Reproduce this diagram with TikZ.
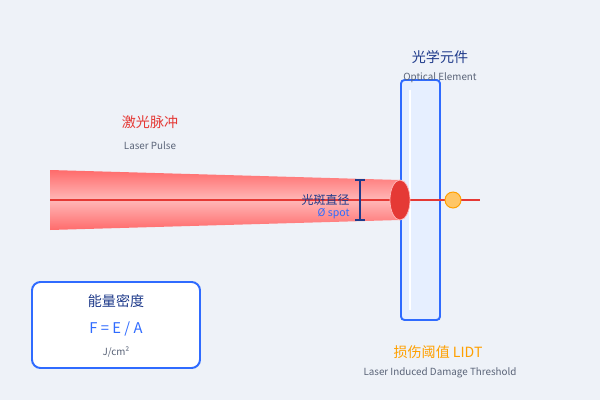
\documentclass[tikz,border=0pt]{standalone}
\usepackage{fontspec}
\setmainfont{Noto Sans CJK SC}
\usetikzlibrary{positioning,shapes.geometric}
\definecolor{bg}{HTML}{EEF2F8}
\definecolor{beamred}{HTML}{FF6B6B}
\definecolor{beamlight}{HTML}{FFB8B8}
\definecolor{spotred}{HTML}{E53935}
\definecolor{optblue}{HTML}{2F6BFF}
\definecolor{optfill}{HTML}{E6EFFF}
\definecolor{navy}{HTML}{1E3A8A}
\definecolor{greytext}{HTML}{5A6478}
\definecolor{damage}{HTML}{FFA000}
\tikzset{
  title/.style={font=\fontsize{20}{24}\selectfont},
  small/.style={font=\fontsize{14}{17}\selectfont, text=greytext},
}
\begin{document}
\begin{tikzpicture}[x=0.5mm,y=-0.5mm]
  \fill[bg] (0,0) rectangle (600,400);
  \useasboundingbox (0,0) rectangle (600,400);
  % beam
  \shade[top color=beamred, bottom color=beamred, middle color=beamlight]
    (50,170) -- (400,180) -- (400,220) -- (50,230) -- cycle;
  \coordinate (src) at (50,200);
  \coordinate (end) at (480,200);
  \draw[spotred, line width=2.4pt] (src) -- (end);
  % optical element
  \draw[optblue, fill=optfill, line width=2.8pt, rounded corners=5pt] (401,80) rectangle (440,320);
  \draw[white, line width=4pt] (410,90) -- (410,310);
  \draw[spotred, line width=2.4pt] (400,200) -- (end);
  \node[ellipse, fill=spotred, draw=beamlight, line width=1pt, minimum width=10mm, minimum height=20mm, inner sep=0] (spot) at (400,200) {};
  \node[circle, fill=damage!60, draw=damage, line width=1.4pt, minimum size=8mm, inner sep=0] (dmg) at (453,200) {};
  % spot diameter
  \coordinate (dtop) at (360,180);
  \coordinate (dbot) at (360,220);
  \draw[navy, line width=2pt] (dtop) -- (dbot);
  \draw[navy, line width=2pt] ([xshift=-2.5mm]dtop) -- ([xshift=2.5mm]dtop);
  \draw[navy, line width=2pt] ([xshift=-2.5mm]dbot) -- ([xshift=2.5mm]dbot);
  \node[anchor=east, font=\fontsize{17}{20}\selectfont, text=navy] (dlab) at (352,200) {光斑直径};
  \node[anchor=east, font=\fontsize{15}{18}\selectfont, text=optblue] (dsym) at (352,214) {Ø spot};
  % labels
  \node[title, text=spotred] (pulse) at (150,122) {激光脉冲};
  \node[small] (pulsen) at (150,146) {Laser Pulse};
  \node[title, text=navy] (opt) at (440,57) {光学元件};
  \node[small] (optn) at (440,78) {Optical Element};
  \node[title, text=damage] (lidt) at (438,352) {损伤阈值 LIDT};
  \node[small] (lidtn) at (440,373) {Laser Induced Damage Threshold};
  % fluence box
  \draw[optblue, fill=white, line width=2.8pt, rounded corners=12pt] (32,282) rectangle (200,368);
  \node[title, text=navy] (flu) at (116,301) {能量密度};
  \node[font=\fontsize{21}{25}\selectfont, text=optblue] (form) at (116,329) {F = E / A};
  \node[small] (unit) at (116,352) {J/cm²};
\end{tikzpicture}
\end{document}
